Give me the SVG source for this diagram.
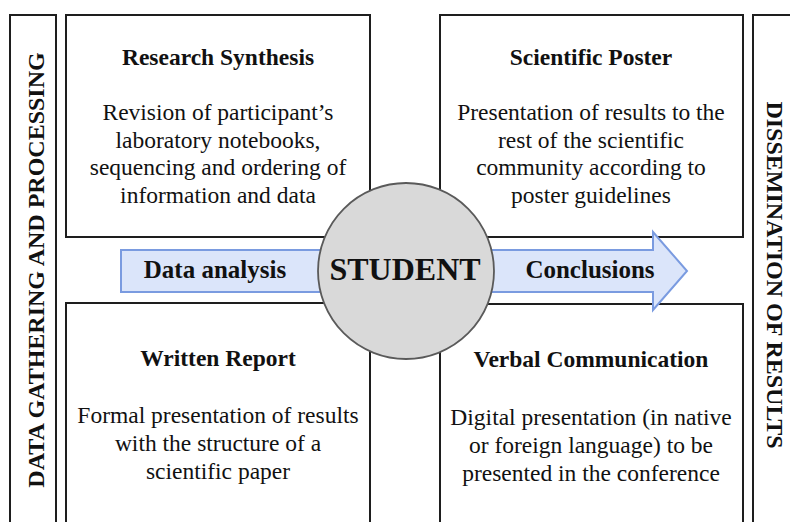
<svg xmlns="http://www.w3.org/2000/svg" width="790" height="522" viewBox="0 0 790 522">
<style>
.box{fill:#fff;stroke:#1e1e1e;stroke-width:2}
.t{font-family:"Liberation Serif","Times New Roman",serif;fill:#111;text-anchor:middle}
.h{font-size:23.5px;font-weight:bold}
.b{font-size:23.5px}
.side{font-size:24px;font-weight:bold}
.arr{fill:#dbe5fa;stroke:#7a9be0;stroke-width:2;stroke-linejoin:miter}
.lbl{font-size:25px;font-weight:bold}
</style>
<rect width="790" height="522" fill="#fff"/>
<g id="side-left">
<rect class="box" x="10" y="15" width="46" height="530"/>
<text class="t side" transform="translate(44,270) rotate(-90)">DATA GATHERING AND PROCESSING</text>
</g>
<g id="side-right">
<rect class="box" x="753" y="15" width="60" height="530"/>
<text class="t side" transform="translate(767,275) rotate(90)">DISSEMINATION OF RESULTS</text>
</g>
<g id="research-synthesis">
<rect class="box" x="66" y="15" width="304" height="222"/>
<text class="t h" x="218" y="65">Research Synthesis</text>
<text class="t b" x="218" y="120">Revision of participant’s</text>
<text class="t b" x="218" y="147.5">laboratory notebooks,</text>
<text class="t b" x="218" y="175">sequencing and ordering of</text>
<text class="t b" x="218" y="202.5">information and data</text>
</g>
<g id="scientific-poster">
<rect class="box" x="440" y="15" width="303" height="222"/>
<text class="t h" x="591" y="65">Scientific Poster</text>
<text class="t b" x="591" y="120">Presentation of results to the</text>
<text class="t b" x="591" y="147.5">rest of the scientific</text>
<text class="t b" x="591" y="175">community according to</text>
<text class="t b" x="591" y="202.5">poster guidelines</text>
</g>
<g id="written-report">
<rect class="box" x="66" y="303" width="304" height="230"/>
<text class="t h" x="218" y="366">Written Report</text>
<text class="t b" x="218" y="423">Formal presentation of results</text>
<text class="t b" x="218" y="451">with the structure of a</text>
<text class="t b" x="218" y="479">scientific paper</text>
</g>
<g id="verbal-communication">
<rect class="box" x="440" y="304" width="303" height="230"/>
<text class="t h" x="591" y="367">Verbal Communication</text>
<text class="t b" x="591" y="425">Digital presentation (in native</text>
<text class="t b" x="591" y="453">or foreign language) to be</text>
<text class="t b" x="591" y="481">presented in the conference</text>
</g>
<g id="connectors">
<path class="arr" d="M121,250 H653 V232 L687,271 L653,310 V292 H121 Z"/>
<text class="t lbl" x="215" y="278">Data analysis</text>
<text class="t lbl" x="590" y="278">Conclusions</text>
</g>
<g id="student">
<circle cx="406" cy="271" r="88" fill="#d9d9d9" stroke="#5a5a5a" stroke-width="1.8"/>
<text class="t" x="405" y="280" font-size="32" font-weight="bold">STUDENT</text>
</g>
</svg>
